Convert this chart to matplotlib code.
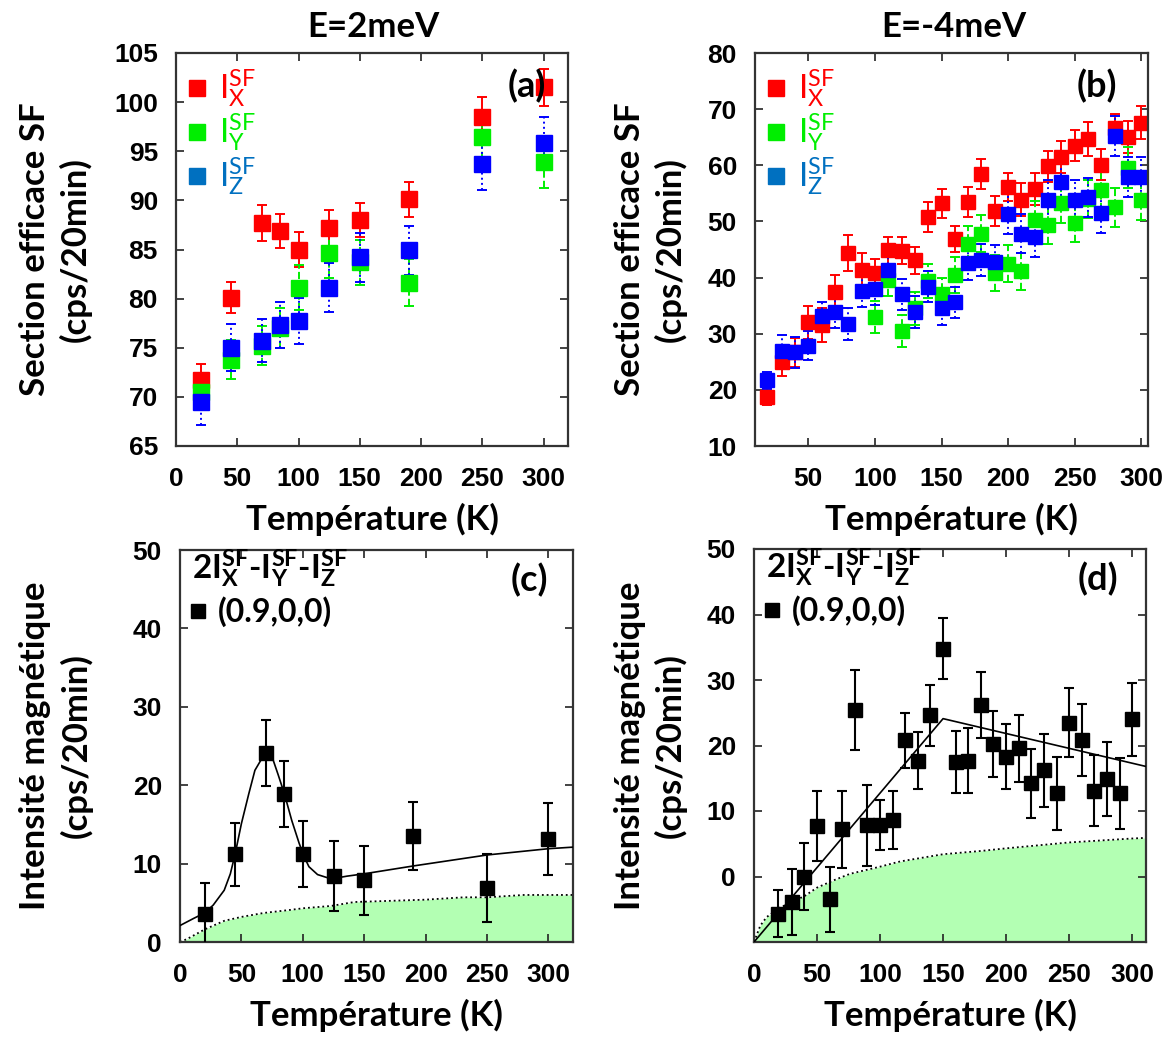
import matplotlib
matplotlib.use('Agg')
import matplotlib.pyplot as plt
from matplotlib.lines import Line2D
from matplotlib.font_manager import FontProperties

plt.rcParams['font.family'] = ['Lato', 'DejaVu Sans']
plt.rcParams['mathtext.fontset'] = 'custom'
plt.rcParams['mathtext.rm'] = 'Lato'
plt.rcParams['mathtext.it'] = 'Lato'
plt.rcParams['mathtext.bf'] = 'Lato:bold'

# ---------- donnees (a) : E = 2 meV ----------
temp_a = [20, 45, 70, 85, 100, 125, 150, 190, 250, 300]
ix_a = [71.7, 80.1, 87.7, 86.9, 85.0, 87.2, 88.0, 90.1, 98.5, 101.5]
ix_a_err = [1.6, 1.6, 1.8, 1.7, 1.75, 1.8, 1.7, 1.8, 2.0, 1.9]
iy_a = [70.5, 73.8, 75.2, 77.0, 81.1, 84.6, 83.7, 81.6, 96.4, 93.9]
iy_a_err = [1.8, 2.0, 2.0, 2.0, 2.3, 2.5, 2.3, 2.4, 2.2, 2.6]
iz_a = [69.5, 75.0, 75.7, 77.3, 77.7, 81.1, 84.2, 84.9, 93.7, 95.8]
iz_a_err = [2.4, 2.4, 2.2, 2.35, 2.35, 2.5, 2.5, 2.5, 2.6, 2.7]

# ---------- donnees (b) : E = -4 meV ----------
temp_b = [19, 30, 40, 50, 60, 70, 80, 90, 100, 110, 120, 130, 140, 150, 160,
          170, 180, 190, 200, 210, 220, 230, 240, 250, 260, 270, 280, 290, 300]
ix_b = [18.8, 25.0, 26.7, 32.0, 31.5, 37.4, 44.4, 41.4, 40.8, 44.9, 44.8, 43.1,
        50.8, 53.2, 46.9, 53.4, 58.5, 51.9, 56.1, 53.9, 55.8, 59.8, 61.5, 63.5,
        64.7, 60.1, 66.6, 65.0, 67.6]
ix_b_err = [1.5, 2.5, 2.6, 2.9, 3.0, 3.0, 3.2, 3.0, 2.5, 2.4, 2.4, 2.4, 2.6, 2.6,
            2.3, 2.7, 2.7, 2.7, 2.5, 2.9, 2.8, 2.8, 2.8, 2.8, 3.0, 2.8, 2.5, 2.8, 3.0]
temp_b_y = [100, 110, 120, 130, 140, 150, 160, 170, 180, 190, 200, 210, 220,
            230, 240, 250, 260, 270, 280, 290, 300]
iy_b = [33.0, 39.5, 30.5, 34.5, 39.4, 37.0, 40.4, 46.0, 47.8, 40.8, 42.5, 41.1,
        50.3, 49.3, 53.2, 49.7, 54.0, 55.6, 52.5, 59.6, 53.8]
iy_b_err = [2.8, 2.8, 2.8, 3.0, 3.0, 3.0, 3.2, 3.2, 3.3, 3.2, 3.3, 3.3, 3.3,
            3.4, 3.4, 3.4, 3.4, 3.5, 3.5, 3.6, 3.6]
iz_b = [21.7, 27.0, 26.7, 27.9, 33.1, 33.9, 31.7, 37.6, 37.9, 41.4, 37.0, 33.9,
        38.4, 34.6, 35.6, 42.6, 43.1, 42.8, 51.3, 47.8, 47.2, 53.8, 57.1, 53.8,
        54.3, 51.5, 65.2, 57.9, 57.9]
iz_b_err = [1.5, 2.8, 2.8, 2.5, 2.5, 2.8, 2.8, 2.8, 2.8, 2.8, 2.8, 2.8, 2.8, 3.0,
            2.8, 3.0, 2.8, 3.0, 3.5, 3.5, 3.5, 3.5, 3.5, 3.5, 3.5, 3.5, 3.6, 3.6, 3.6]

# ---------- donnees (c) : 2Ix - Iy - Iz, E = 2 meV ----------
mag_c = [3.6, 11.2, 24.1, 18.9, 11.2, 8.4, 7.9, 13.5, 6.9, 13.1]
mag_c_err = [3.9, 4.0, 4.2, 4.2, 4.2, 4.5, 4.4, 4.3, 4.3, 4.6]
fit_c_t = [0, 11, 20, 27, 36, 41, 45, 50, 56, 61, 67, 70, 75, 80, 85, 91, 97,
           101, 105, 112, 120, 125, 136, 150, 190, 250, 300, 320]
fit_c_v = [2.1, 3.0, 3.7, 4.7, 6.6, 8.7, 11.3, 15.1, 18.9, 21.9, 23.5, 24.0,
           23.6, 21.3, 18.9, 15.5, 12.6, 10.9, 9.6, 8.6, 8.2, 8.1, 8.4, 8.7,
           9.7, 11.1, 11.9, 12.1]
fond_c_t = [0, 6, 20, 36, 50, 68, 90, 100, 123, 142, 200, 231, 250, 280, 320]
fond_c_v = [0, 0.4, 1.6, 2.7, 3.2, 3.7, 4.1, 4.3, 4.6, 5.1, 5.4, 5.7, 5.7, 6.0, 6.0]

# ---------- donnees (d) : 2Ix - Iy - Iz, E = -4 meV ----------
mag_d = [-5.7, -3.9, 0.0, 7.7, -3.5, 7.2, 25.4, 7.8, 7.9, 8.6, 20.8, 17.7, 24.6,
         34.8, 17.5, 17.7, 26.2, 20.2, 18.3, 19.6, 14.2, 16.2, 12.7, 23.5, 20.8,
         13.1, 14.9, 12.7, 24.0]
mag_d_err = [3.6, 5.1, 5.1, 5.4, 5.0, 5.9, 6.1, 6.2, 3.8, 4.4, 4.2, 4.3, 4.7, 4.7,
             4.7, 5.0, 5.0, 5.0, 5.0, 5.1, 5.2, 5.6, 5.6, 5.3, 5.5, 5.4, 5.6, 5.4, 5.6]
fit_d_t = [0, 150, 311]
fit_d_v = [-10, 24.1, 16.8]
fond_d_t = [0, 5, 10, 20, 30, 40, 50, 63, 76, 100, 116, 150, 180, 200, 250, 300, 311]
fond_d_v = [-10, -7.5, -6.2, -4.8, -3.9, -3.0, -1.7, -0.6, 0.4, 1.5, 2.3, 3.4,
            3.9, 4.3, 5.2, 5.8, 5.9]

RED = '#ff0000'
GREEN = '#00ee00'
BLUE = '#0000ff'
BLUE_TXT = '#0070c0'
FILL = '#b3ffb3'
TICKFONT = dict(family='Liberation Sans', weight='bold', size=19)
LABSIZE = 25

fig = plt.figure(figsize=(11.73, 10.41), dpi=100, facecolor='white')
W, H = 1173.0, 1041.0

def add_axes(x0, y0, x1, y1):
    return fig.add_axes([x0 / W, 1 - y1 / H, (x1 - x0) / W, (y1 - y0) / H])

ax_a = add_axes(176, 53, 568, 446)
ax_b = add_axes(755, 53, 1148, 446)
ax_c = add_axes(180, 550, 573, 942)
ax_d = add_axes(754, 549, 1146, 942)


def style(ax, ylabel, ylab_x):
    ax.tick_params(direction='in', top=True, right=True, length=6, width=1.2,
                   color='#222222')
    ax.tick_params(axis='x', pad=15)
    ax.tick_params(axis='y', pad=13)
    for lab in ax.get_xticklabels() + ax.get_yticklabels():
        lab.set_fontproperties(FontProperties(**TICKFONT))
    for s in ax.spines.values():
        s.set_linewidth(1.6)
        s.set_color('#333333')
    ax.set_xlabel('Température (K)', fontsize=LABSIZE, fontweight='bold', labelpad=9)
    ax.set_ylabel(ylabel, fontsize=LABSIZE, fontweight='bold', linespacing=1.3)
    ax.yaxis.set_label_coords(ylab_x, 0.5)


def sf_series(ax, t, v, e, color, ls, ms):
    cont = ax.errorbar(t, v, yerr=e, fmt='s', color=color, ms=ms, mec=color,
                       ecolor=color, elinewidth=1.4, capsize=3.5, capthick=1.4)
    cont.lines[2][0].set_linestyle(ls)
    return cont


# ---------- panneau (a) ----------
sf_series(ax_a, temp_a, ix_a, ix_a_err, RED, '-', 11)
sf_series(ax_a, temp_a, iy_a, iy_a_err, GREEN, '--', 11)
sf_series(ax_a, temp_a, iz_a, iz_a_err, BLUE, ':', 11)
ax_a.set_xlim(0, 320)
ax_a.set_ylim(65, 105)
ax_a.set_xticks(range(0, 301, 50))
ax_a.set_yticks(range(65, 106, 5))

# ---------- panneau (b) ----------
sf_series(ax_b, temp_b, ix_b, ix_b_err, RED, '-', 10)
sf_series(ax_b, temp_b_y, iy_b, iy_b_err, GREEN, '--', 10)
sf_series(ax_b, temp_b, iz_b, iz_b_err, BLUE, ':', 10)
ax_b.set_xlim(10, 305)
ax_b.set_ylim(10, 80)
ax_b.set_xticks(range(50, 301, 50))
ax_b.set_yticks(range(10, 81, 10))

for ax, lab, lx, ylx in [(ax_a, '(a)', 0.895, -0.214), (ax_b, '(b)', 0.87, -0.173)]:
    handles = [Line2D([], [], marker='s', ls='none', color=c, ms=12)
               for c in (RED, GREEN, BLUE_TXT)]
    labels = [r'I$_\mathrm{X}^\mathrm{SF}$', r'I$_\mathrm{Y}^\mathrm{SF}$',
              r'I$_\mathrm{Z}^\mathrm{SF}$']
    leg = ax.legend(handles, labels, loc='upper left', frameon=False,
                    fontsize=24, handlelength=0.6, handletextpad=0.35,
                    labelspacing=0.05, borderaxespad=0.0,
                    bbox_to_anchor=(-0.005, 0.995))
    for txt, c in zip(leg.get_texts(), (RED, GREEN, BLUE_TXT)):
        txt.set_color(c)
    style(ax, 'Section efficace SF\n(cps/20min)', ylx)
    ax.text(lx, 0.915, lab, transform=ax.transAxes,
            fontsize=26, fontweight='bold', ha='center', va='center', zorder=10)

# ---------- panneau (c) ----------
ax_c.fill_between(fond_c_t, 0, fond_c_v, color=FILL, lw=0, zorder=1)
ax_c.plot(fond_c_t, fond_c_v, color='black', ls=':', lw=1.3, zorder=2)
ax_c.plot(fit_c_t, fit_c_v, color='black', lw=1.2, zorder=3)
ax_c.errorbar(temp_a, mag_c, yerr=mag_c_err, fmt='s', color='black', ms=10,
              ecolor='black', elinewidth=1.5, capsize=3.5, capthick=1.5, zorder=4)
ax_c.set_xlim(0, 320)
ax_c.set_ylim(0, 50)
ax_c.set_xticks(range(0, 301, 50))
ax_c.set_yticks(range(0, 51, 10))

# ---------- panneau (d) ----------
ax_d.fill_between(fond_d_t, -10, fond_d_v, color=FILL, lw=0, zorder=1)
ax_d.plot(fond_d_t, fond_d_v, color='black', ls=':', lw=1.3, zorder=2)
ax_d.plot(fit_d_t, fit_d_v, color='black', lw=1.2, zorder=3)
ax_d.errorbar(temp_b, mag_d, yerr=mag_d_err, fmt='s', color='black', ms=10,
              ecolor='black', elinewidth=1.5, capsize=3.5, capthick=1.5, zorder=4)
ax_d.set_xlim(0, 311)
ax_d.set_ylim(-10, 50)
ax_d.set_xticks(range(0, 301, 50))
ax_d.set_yticks(range(-10, 51, 10))
ax_d.set_yticklabels([''] + [str(v) for v in range(0, 51, 10)])

formule = r'2I$\mathbf{_X^{SF}}$-I$\mathbf{_Y^{SF}}$-I$\mathbf{_Z^{SF}}$'
for ax, lab, lx, ylx in [(ax_c, '(c)', 0.89, -0.223), (ax_d, '(d)', 0.878, -0.171)]:
    h = [Line2D([], [], marker='s', ls='none', color='black', ms=10)]
    ax.legend(h, ['(0.9,0,0)'], loc='center left', frameon=False,
              bbox_to_anchor=(-0.01, 0.843), handlelength=0.6,
              handletextpad=0.3, borderaxespad=0.0,
              prop=dict(family='Lato', weight='bold', size=23))
    ax.text(0.03, 0.952, formule, transform=ax.transAxes, fontsize=24,
            fontweight='bold', ha='left', va='center')
    style(ax, 'Intensité magnétique\n(cps/20min)', ylx)
    ax.text(lx, 0.923, lab, transform=ax.transAxes, fontsize=26,
            fontweight='bold', ha='center', va='center', zorder=10)

fig.text(373 / W, 1 - 27 / H, 'E=2meV', fontsize=25, fontweight='bold',
         ha='center', va='center')
fig.text(954 / W, 1 - 27 / H, 'E=-4meV', fontsize=25, fontweight='bold',
         ha='center', va='center')

fig.savefig('out.png', dpi=100, facecolor='white')
